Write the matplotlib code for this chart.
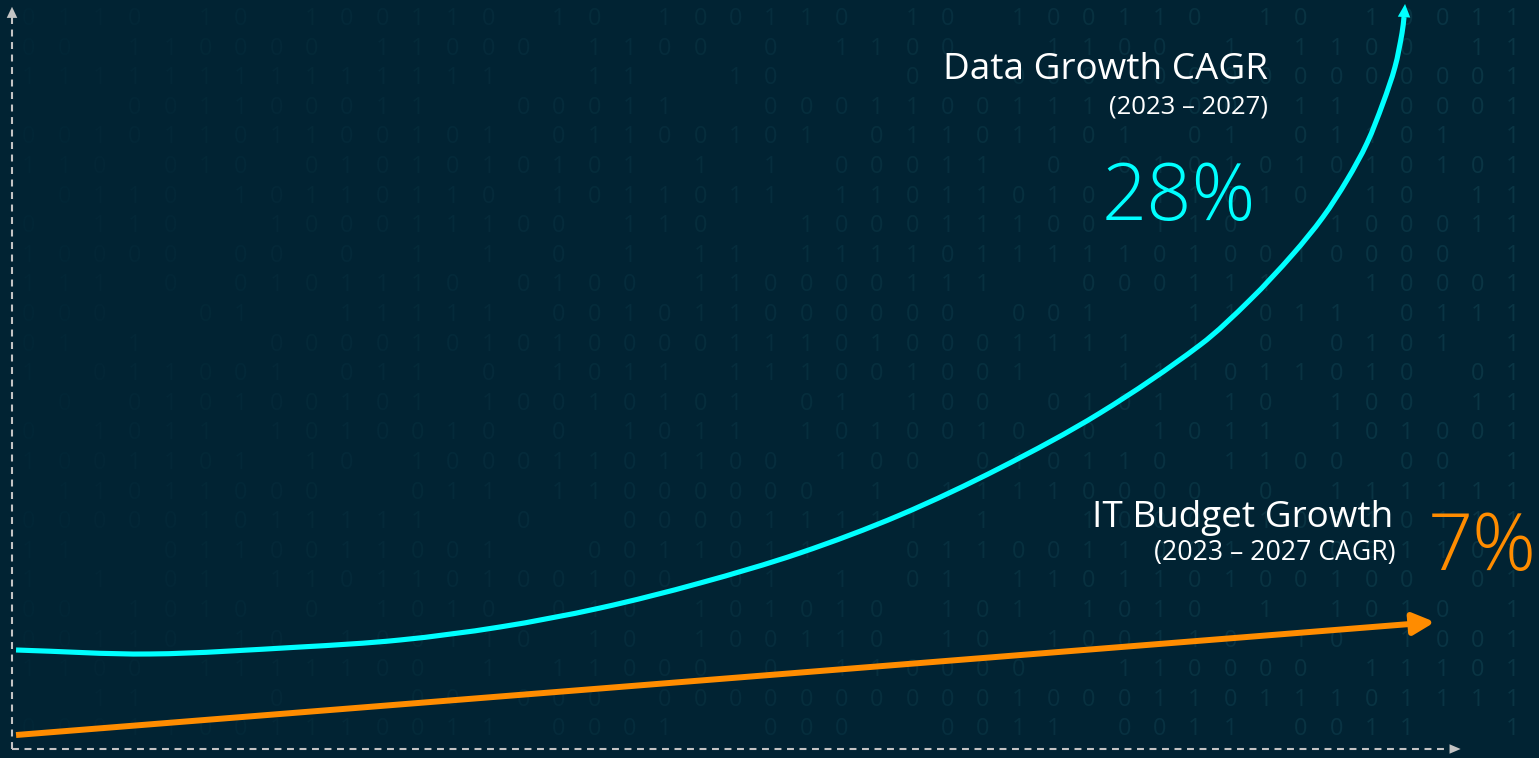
import matplotlib
matplotlib.use("Agg")
import matplotlib.pyplot as plt
from matplotlib.path import Path
from matplotlib.patches import PathPatch
import numpy as np

# ---------------- data ----------------
# x: share of the time span (0..100), y: relative growth index (0..100)
data_x = [0.28, 9.58, 20.00, 26.94, 33.89, 40.83, 47.78, 54.72, 61.67, 68.61,
          75.56, 82.50, 85.97, 88.96, 91.04, 92.71, 94.10, 95.21, 96.04, 96.53,
          96.67, 96.74]
data_y = [13.38, 12.84, 13.78, 14.73, 16.49, 19.05, 22.43, 26.49, 31.62, 37.97,
          45.41, 54.59, 60.68, 66.89, 71.89, 76.89, 81.89, 87.30, 92.16, 96.76,
          98.92, 100.68]
budget_x = [0.28, 98.82]
budget_y = [1.89, 17.16]

data_title = "Data Growth CAGR"
data_sub = "(2023 – 2027)"
data_value = "28%"
budget_title = "IT Budget Growth"
budget_sub = "(2023 – 2027 CAGR)"
budget_value = "7%"

# ---------------- style ----------------
BG = "#012333"
CYAN = "#00FFFF"
ORANGE = "#FF8C00"
AXIS = "#c4c4c4"
W, H = 1539, 758
plt.rcParams['lines.scale_dashes'] = False
FONT = ["Open Sans", "DejaVu Sans"]

fig = plt.figure(figsize=(W / 100, H / 100), dpi=100, facecolor=BG)
ax = fig.add_axes([0, 0, 1, 1])
ax.set_facecolor(BG)
PX_X, PX_Y, X0, Y0 = 14.4, 7.4, 12, 749
ax.set_xlim(-X0 / PX_X, (W - X0) / PX_X)
ax.set_ylim(-(H - Y0) / PX_Y, Y0 / PX_Y)
ax.axis("off")

# faint binary texture in the background (decoration)
bg = np.array([1, 35, 51]) / 255
fg = np.array([40, 115, 128]) / 255
ncol, nrow = 44, 25
for i in range(ncol):
    px = 29 + i * 35.33
    t = 0.03 + 0.20 * (px / W)
    col = tuple(bg + t * (fg - bg))
    for j in range(nrow):
        py = 19 + j * 29.6
        v = (i * 37 + j * 53 + ((i * j) % 7) * 11 + (i // 3) * (j // 2)) % 10
        if v >= 8:
            continue
        ch = "0" if v < 4 else "1"
        ax.text(px / W, 1 - py / H, ch, ha="center", va="center",
                transform=fig.transFigure, fontsize=17, color=col,
                family=FONT, zorder=0.5)

# dashed axes with arrow heads
ax.plot([0, 0], [0, 99.0], color=AXIS, lw=1.5, ls=(0, (5, 4)), zorder=2)
ax.plot([0, 99.8], [0, 0], color=AXIS, lw=1.5, ls=(0, (5, 4)), zorder=2)
ax.annotate("", xy=(0, 100.3), xytext=(0, 98.5),
            arrowprops=dict(arrowstyle="-|>,head_length=0.8,head_width=0.38",
                            mutation_scale=10, color=AXIS, lw=0,
                            shrinkA=0, shrinkB=0), zorder=3)
ax.annotate("", xy=(100.6, 0), xytext=(99.3, 0),
            arrowprops=dict(arrowstyle="-|>,head_length=0.8,head_width=0.34",
                            mutation_scale=10, color=AXIS, lw=0,
                            shrinkA=0, shrinkB=0), zorder=3)

# data growth curve: smooth (chord-length Hermite) path through the read points
S = np.array([PX_X, PX_Y])
Q = np.column_stack([data_x[:-1], data_y[:-1]]) * S
tk = np.concatenate([[0], np.cumsum(np.hypot(*np.diff(Q, axis=0).T))])
n = len(Q)
M = np.zeros_like(Q)
M[0] = (Q[1] - Q[0]) / (tk[1] - tk[0])
M[-1] = (Q[-1] - Q[-2]) / (tk[-1] - tk[-2])
for i in range(1, n - 1):
    M[i] = (Q[i + 1] - Q[i - 1]) / (tk[i + 1] - tk[i - 1])
verts, codes = [Q[0] / S], [Path.MOVETO]
for i in range(n - 1):
    h = tk[i + 1] - tk[i]
    verts += [(Q[i] + M[i] * h / 3) / S, (Q[i + 1] - M[i + 1] * h / 3) / S, Q[i + 1] / S]
    codes += [Path.CURVE4] * 3
ax.add_patch(PathPatch(Path(verts, codes), fill=False, edgecolor=CYAN, lw=3.7,
                       capstyle="butt", joinstyle="round", zorder=4))
ax.annotate("", xy=(data_x[-1], data_y[-1]), xytext=(data_x[-2], data_y[-2]),
            arrowprops=dict(arrowstyle="-|>,head_length=0.95,head_width=0.45",
                            mutation_scale=10, color=CYAN, lw=0,
                            shrinkA=0, shrinkB=0), zorder=4)

# IT budget line
ax.annotate("", xy=(budget_x[-1], budget_y[-1]), xytext=(budget_x[0], budget_y[0]),
            arrowprops=dict(arrowstyle="-|>,head_length=1.3,head_width=0.65",
                            mutation_scale=10, color=ORANGE, lw=4.3,
                            shrinkA=0, shrinkB=0, capstyle="butt"), zorder=4)

# labels
def ftext(px, py, s, **kw):
    fig.text(px / W, 1 - py / H, s, family=FONT, va="baseline", **kw)

ftext(1268, 79, data_title, ha="right", fontsize=26.6, color="white")
ftext(1268, 113, data_sub, ha="right", fontsize=18.5, color="white")
ftext(1256, 220, data_value, ha="right", fontsize=57, color=CYAN, fontweight="light")
ftext(1393, 527, budget_title, ha="right", fontsize=26.6, color="white")
ftext(1395, 560, budget_sub, ha="right", fontsize=19.2, color="white")
ftext(1428, 570, budget_value, ha="left", fontsize=57, color=ORANGE, fontweight="light")

fig.savefig("out.png", dpi=100, facecolor=BG)
